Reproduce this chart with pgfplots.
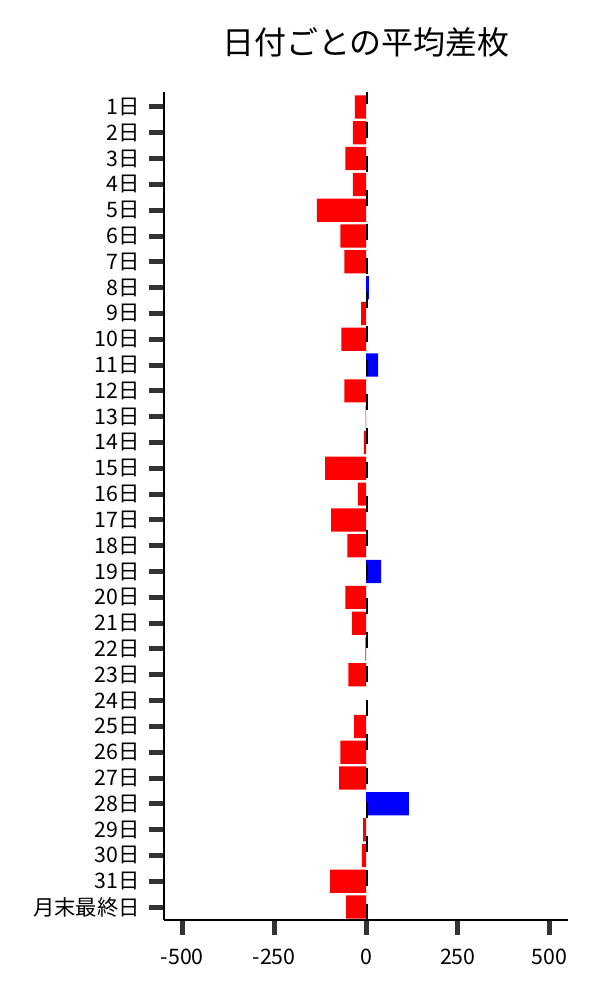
\documentclass[border=0pt]{standalone}
\usepackage{fontspec}
\setmainfont{Noto Sans CJK JP}
\usepackage{pgfplots}
\pgfplotsset{compat=1.18}
\definecolor{tickgray}{HTML}{333333}
\begin{document}
\begin{tikzpicture}[x=1pt,y=1pt]
\path[use as bounding box] (0,0) rectangle (450,750);
\begin{axis}[
  at={(123pt,60pt)}, anchor=south west, scale only axis,
  width=303pt, height=621pt,
  xmin=-550, xmax=550, ymin=-0.5, ymax=31.58,
  axis x line*=bottom, axis y line*=left,
  axis line style={line width=0.8pt, black, -},
  xtick={-500,-250,0,250,500},
  xticklabels={-500,-250,0,250,500},
  ytick={0,...,31},
  yticklabels={月末最終日,31日,30日,29日,28日,27日,26日,25日,24日,23日,22日,21日,20日,19日,18日,17日,16日,15日,14日,13日,12日,11日,10日,9日,8日,7日,6日,5日,4日,3日,2日,1日},
  tick align=outside, major tick length=11.5pt,
  tick style={line width=3.75pt, color=tickgray},
  ticklabel style={font=\fontsize{16}{19}\selectfont, text=black},
  xticklabel style={yshift=-7pt},
  yticklabel style={xshift=-3pt},
  xbar, bar width=0.9, bar shift=0pt,
  clip=false,
]
\addplot[draw=none, fill=red] coordinates {
(-30,31) (-36,30) (-56,29) (-36,28) (-134,27) (-70,26) (-59,25) (-13,23) (-67,22) (-59,20) (-1,19) (-6,18) (-111,17) (-22,16) (-95,15) (-51,14) (-56,12) (-38,11) (-2,10) (-48,9) (-32,7) (-70,6) (-73,5) (-8,3) (-11,2) (-98,1) (-54,0)
};
\addplot[draw=none, fill=blue] coordinates {
(8,24) (33,21) (41,13) (117,4)
};
\addplot[sharp plot, black, line width=1.8pt, dash pattern=on 12pt off 13.5pt, mark=none, fill=none] coordinates {(2,-0.5) (2,31.58)};
\node[font=\fontsize{24}{28}\selectfont] at (rel axis cs:0.5,1) [yshift=37.5pt] {日付ごとの平均差枚};
\end{axis}
\end{tikzpicture}
\end{document}
